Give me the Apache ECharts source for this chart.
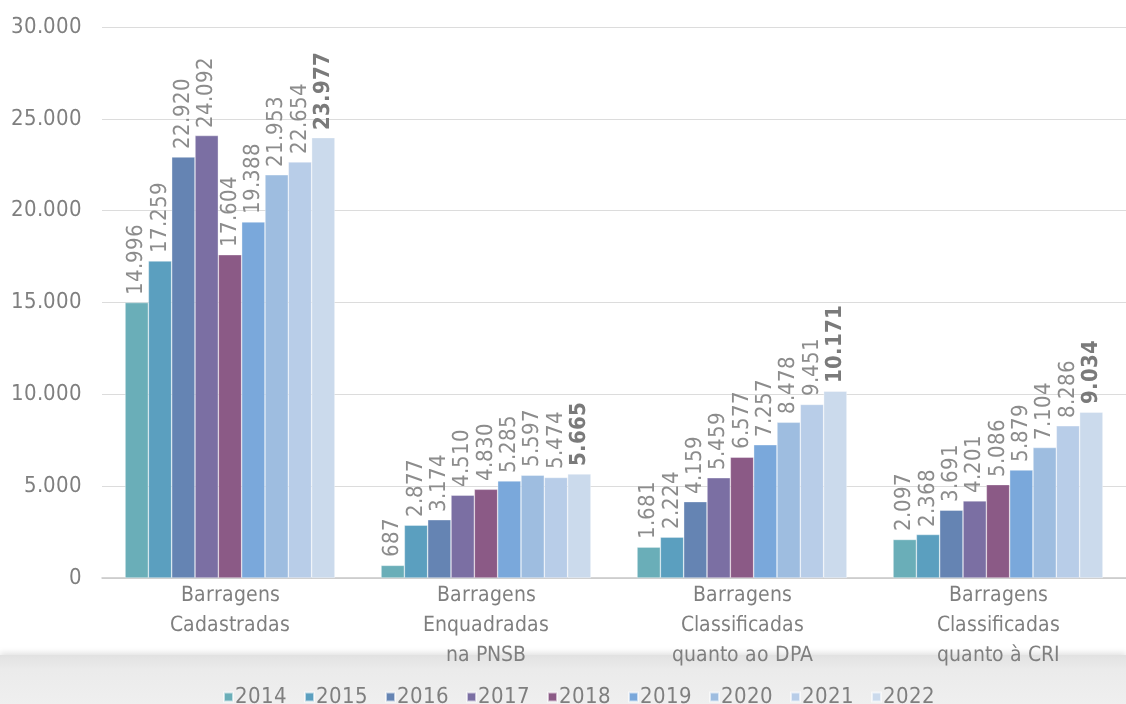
<!DOCTYPE html>
<html lang="pt">
<head>
    <meta charset="UTF-8">
    <title>Barragens</title>
    <style type="text/css">
        @font-face {
            font-family: 'Cond';
            src: local('DejaVu Sans Condensed'), local('DejaVuSansCondensed'), local('Liberation Sans Narrow'), local('LiberationSansNarrow-Regular');
        }
        @font-face {
            font-family: 'CondBold';
            src: local('DejaVu Sans Condensed Bold'), local('DejaVuSansCondensed-Bold'), local('Liberation Sans Narrow Bold'), local('LiberationSansNarrow-Bold');
        }
        html, body { margin: 0; padding: 0; background: #fff; }
        #main { width: 1126px; height: 704px; }
    </style>
</head>
<body>
    <div id="main"></div>
    <script src="https://cdn.jsdelivr.net/npm/echarts@6/dist/echarts.min.js"></script>
    <script type="text/javascript">
        var categories = ['Barragens\nCadastradas', 'Barragens\nEnquadradas\nna PNSB', 'Barragens\nClassificadas\nquanto ao DPA', 'Barragens\nClassificadas\nquanto à CRI'];
        var years = ['2014', '2015', '2016', '2017', '2018', '2019', '2020', '2021', '2022'];
        var colors = ['#6aaeb8', '#5b9fbf', '#6584b3', '#7b6fa3', '#8b5a86', '#7aa8db', '#9ebde0', '#b8cde8', '#cbdaec'];
        var v2014 = [14996, 687, 1681, 2097];
        var v2015 = [17259, 2877, 2224, 2368];
        var v2016 = [22920, 3174, 4159, 3691];
        var v2017 = [24092, 4510, 5459, 4201];
        var v2018 = [17604, 4830, 6577, 5086];
        var v2019 = [19388, 5285, 7257, 5879];
        var v2020 = [21953, 5597, 8478, 7104];
        var v2021 = [22654, 5474, 9451, 8286];
        var v2022 = [23977, 5665, 10171, 9034];
        var values = [v2014, v2015, v2016, v2017, v2018, v2019, v2020, v2021, v2022];

        var fontName = 'Cond, "Liberation Sans Narrow", sans-serif';
        var fontBold = 'CondBold, Cond, sans-serif';

        // separador de milhar com ponto
        function fmt(n) {
            return String(n).replace(/\B(?=(\d{3})+(?!\d))/g, '.');
        }

        function draw() {
            var series = [];
            for (let i = 0; i < years.length; i++) {
                var last = (i == years.length - 1);
                series.push({
                    name: years[i],
                    type: 'bar',
                    data: values[i],
                    barGap: '0%',
                    barCategoryGap: '18%',
                    itemStyle: { color: colors[i], borderColor: 'rgba(255,255,255,0.6)', borderWidth: 0.6 },
                    label: {
                        show: true,
                        position: 'top',
                        rotate: 90,
                        align: 'left',
                        verticalAlign: 'middle',
                        distance: 8,
                        fontFamily: last ? fontBold : fontName,
                        fontSize: 22,
                        fontWeight: last ? 'bold' : 'normal',
                        color: last ? '#7a7a7a' : '#8c8c8c',
                        formatter: function (p) { return fmt(p.value); }
                    }
                });
            }

            var myChart = echarts.init(document.getElementById('main'));
            var option = {
                backgroundColor: '#ffffff',
                animation: false,
                textStyle: { fontFamily: fontName },
                graphic: [{
                    type: 'rect',
                    z: -10,
                    shape: { x: 0, y: 655, width: 1126, height: 49 },
                    style: {
                        fill: new echarts.graphic.LinearGradient(0, 0, 0, 1, [
                            { offset: 0, color: '#e2e2e2' },
                            { offset: 0.3, color: '#ebebeb' },
                            { offset: 1, color: '#efefef' }
                        ]),
                        shadowBlur: 6,
                        shadowColor: 'rgba(0,0,0,0.12)',
                        shadowOffsetY: -2
                    }
                }],
                legend: {
                    data: years,
                    top: 681,
                    left: 218,
                    itemWidth: 9,
                    itemHeight: 9,
                    itemGap: 17,
                    icon: 'rect',
                    textStyle: { fontFamily: fontName, fontSize: 22, color: '#7f7f7f', padding: [0, 0, 0, -3] }
                },
                grid: {
                    left: 102,
                    right: -8,
                    top: 27,
                    bottom: 126,
                    containLabel: false
                },
                xAxis: {
                    type: 'category',
                    data: categories,
                    axisLine: { lineStyle: { color: '#c8c8c8', width: 1.5 } },
                    axisTick: { show: false },
                    axisLabel: {
                        fontFamily: fontName,
                        fontSize: 21,
                        color: '#7f7f7f',
                        lineHeight: 30,
                        margin: 3,
                        interval: 0
                    }
                },
                yAxis: {
                    type: 'value',
                    min: 0,
                    max: 30000,
                    interval: 5000,
                    axisLine: { show: false },
                    axisTick: { show: false },
                    splitLine: { lineStyle: { color: '#dcdcdc', width: 1.2 } },
                    axisLabel: {
                        fontFamily: fontName,
                        fontSize: 22,
                        color: '#7f7f7f',
                        margin: 20,
                        formatter: function (v) { return fmt(v); }
                    }
                },
                series: series
            };
            myChart.setOption(option);
        }

        Promise.all([document.fonts.load('20px Cond'), document.fonts.load('20px CondBold')])
            .then(draw, draw);
    </script>
</body>
</html>
